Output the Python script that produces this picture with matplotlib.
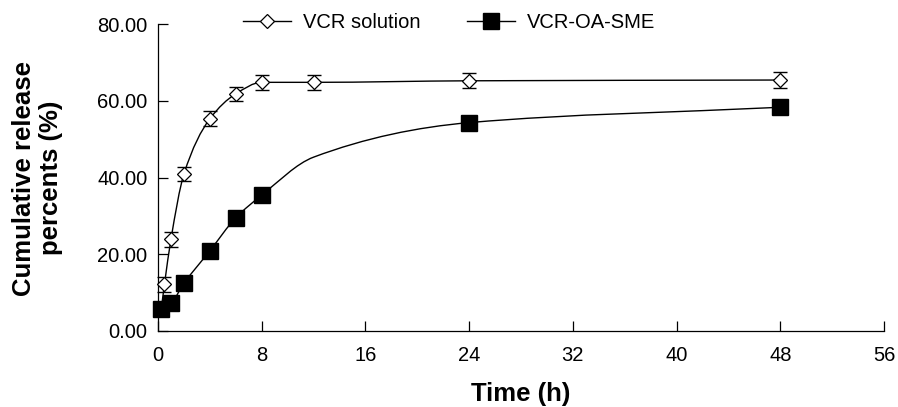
import numpy as np
import matplotlib
matplotlib.use("Agg")
import matplotlib.pyplot as plt
from matplotlib.path import Path
from matplotlib.patches import PathPatch

plt.rcParams['font.family'] = ['Liberation Sans', 'DejaVu Sans']

# ---- data ----
sol_time = [0.25, 0.5, 1, 2, 4, 6, 8, 12, 24, 48]
sol_release = [5.7, 12.2, 23.9, 40.9, 55.3, 61.8, 64.8, 64.8, 65.2, 65.4]
sol_err = [0.0, 2.0, 2.0, 1.9, 1.9, 1.9, 1.9, 2.0, 2.0, 2.0]

sme_time = [0.25, 1, 2, 4, 6, 8, 24, 48]
sme_release = [5.65, 7.2, 12.4, 20.9, 29.5, 35.4, 54.3, 58.3]
# curve knots (includes bend near 12 h)
sme_line_time = [0.25, 1, 2, 4, 6, 8, 12, 24, 48]
sme_line_release = [5.65, 7.2, 12.4, 20.9, 29.5, 35.4, 45.3, 54.3, 58.3]

x_ticks = [0, 8, 16, 24, 32, 40, 48, 56]
y_ticks = [0, 20, 40, 60, 80]
labels = ["VCR solution", "VCR-OA-SME"]


def smooth_path(xs, ys):
    """Monotone (PCHIP-style) cubic Bezier path through the points."""
    xs = np.asarray(xs, float)
    ys = np.asarray(ys, float)
    n = len(xs)
    h = np.diff(xs)
    delta = np.diff(ys) / h
    d = np.zeros(n)
    for k in range(1, n - 1):
        if delta[k - 1] * delta[k] <= 0:
            d[k] = 0.0
        else:
            w1 = 2 * h[k] + h[k - 1]
            w2 = h[k] + 2 * h[k - 1]
            d[k] = (w1 + w2) / (w1 / delta[k - 1] + w2 / delta[k])
    d[0] = delta[0]
    d[-1] = delta[-1]
    verts = [(xs[0], ys[0])]
    codes = [Path.MOVETO]
    for k in range(n - 1):
        verts += [(xs[k] + h[k] / 3, ys[k] + d[k] * h[k] / 3),
                  (xs[k + 1] - h[k] / 3, ys[k + 1] - d[k + 1] * h[k] / 3),
                  (xs[k + 1], ys[k + 1])]
        codes += [Path.CURVE4] * 3
    return Path(verts, codes)


fig = plt.figure(figsize=(8.98, 4.07), dpi=100)
ax = fig.add_axes([158 / 898, 1 - 331 / 407, (884 - 158) / 898, (331 - 24) / 407])

lw = 1.0
# curves
ax.add_patch(PathPatch(smooth_path(sol_time, sol_release), fill=False,
                       edgecolor='black', lw=lw, clip_on=False, zorder=2))
ax.add_patch(PathPatch(smooth_path(sme_line_time, sme_line_release), fill=False,
                       edgecolor='black', lw=lw, clip_on=False, zorder=2))

# error bars + markers
ax.errorbar(sol_time, sol_release, yerr=sol_err, fmt='none', ecolor='black',
            elinewidth=lw, capsize=4.7, capthick=lw, zorder=3, clip_on=False)
ax.plot(sol_time, sol_release, linestyle='none', marker='D', markersize=7.4,
        markerfacecolor='white', markeredgecolor='black', markeredgewidth=0.9,
        zorder=4, clip_on=False)
ax.plot(sme_time, sme_release, linestyle='none', marker='s', markersize=11.3,
        markerfacecolor='black', markeredgecolor='black', zorder=5, clip_on=False)

# legend proxies
h1, = ax.plot([], [], color='black', lw=lw, marker='D', markersize=7.4,
              markerfacecolor='white', markeredgecolor='black', markeredgewidth=0.9)
h2, = ax.plot([], [], color='black', lw=lw, marker='s', markersize=11.3,
              markerfacecolor='black', markeredgecolor='black')
fig.legend([h1, h2], labels, loc='center', bbox_to_anchor=(449 / 898, 1 - 23 / 407),
           ncol=2, frameon=False, fontsize=14.5, handlelength=2.4,
           handletextpad=0.6, columnspacing=2.3, borderaxespad=0)

ax.set_xlim(0, 56)
ax.set_ylim(0, 80)
ax.set_xticks(x_ticks)
ax.set_xticklabels([str(v) for v in x_ticks])
ax.set_yticks(y_ticks)
ax.set_yticklabels([f"{v:.2f}" for v in y_ticks])
ax.tick_params(direction='in', length=7.2, width=0.9, labelsize=14.5, colors='black')
ax.tick_params(axis='x', pad=11)
ax.tick_params(axis='y', pad=7.5)
for s in ['top', 'right']:
    ax.spines[s].set_visible(False)
for s in ['left', 'bottom']:
    ax.spines[s].set_linewidth(0.9)

fig.text(521 / 898, 1 - 394 / 407, "Time (h)", ha='center', va='center',
         fontsize=18.5, fontweight='bold')
fig.text(37.5 / 898, 1 - 178 / 407, "Cumulative release\npercents (%)", ha='center',
         va='center', rotation=90, fontsize=18.5, fontweight='bold', linespacing=1.15)

fig.savefig("out.png", dpi=100)
